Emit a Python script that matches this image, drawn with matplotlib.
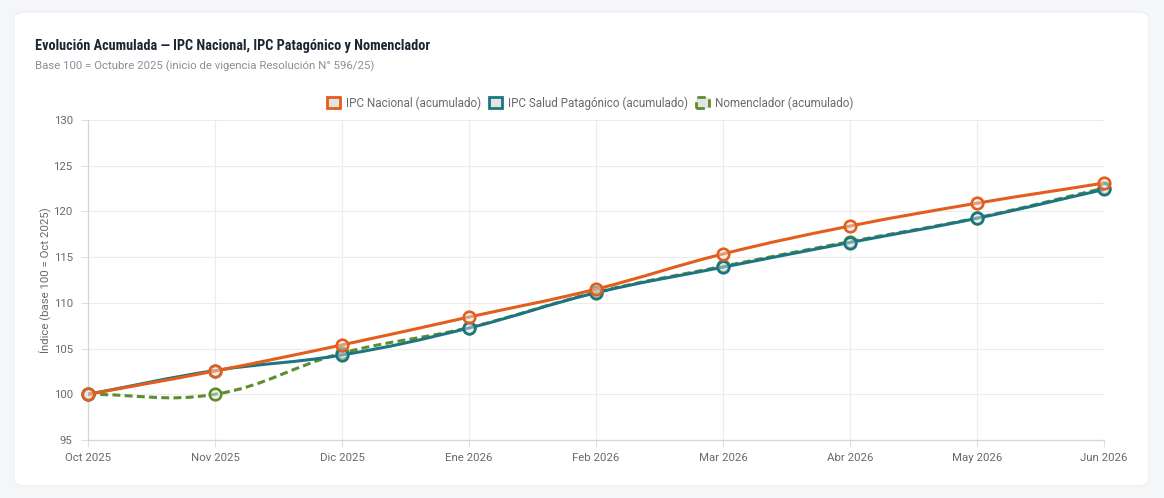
import matplotlib
matplotlib.use("Agg")
import matplotlib.pyplot as plt
from matplotlib.patches import FancyBboxPatch, Patch
from matplotlib.path import Path
from matplotlib.patches import PathPatch
import numpy as np

months = ["Oct 2025", "Nov 2025", "Dic 2025", "Ene 2026", "Feb 2026",
          "Mar 2026", "Abr 2026", "May 2026", "Jun 2026"]
ipc_nacional = [100.0, 102.55, 105.4, 108.45, 111.5, 115.35, 118.4, 120.9, 123.1]
ipc_patagonico = [100.0, 102.6, 104.3, 107.25, 111.1, 113.9, 116.6, 119.25, 122.4]
nomenclador = [100.0, 100.0, 104.5, 107.3, 111.15, 114.0, 116.7, 119.3, 122.55]
y_ticks = [95, 100, 105, 110, 115, 120, 125, 130]

C_OR = "#e35d1d"
C_TE = "#1d7582"
C_GR = "#5b8e2d"
FONT = ["Roboto", "DejaVu Sans"]
TITLE_FONT = ["Noto Sans Condensed", "Liberation Sans Narrow", "Roboto Condensed",
              "DejaVu Sans Condensed", "Noto Sans", "DejaVu Sans"]
DASH = (0, (2.6, 1.4))

fig = plt.figure(figsize=(11.64, 4.98), dpi=100)
fig.patch.set_facecolor("#f5f6f8")
card = FancyBboxPatch((14 / 1164, 12 / 498), 1135 / 1164, 474 / 498,
                      boxstyle="round,pad=0,rounding_size=0.012",
                      transform=fig.transFigure, facecolor="white",
                      edgecolor="#eceef1", linewidth=0.8, zorder=-5)
fig.patches.append(card)

ax = fig.add_axes([88 / 1164, (498 - 440) / 498, 1016 / 1164, 320 / 498])
ax.set_facecolor("none")
x = np.arange(len(months))
ax.set_xlim(0, len(months) - 1)
ax.set_ylim(95, 130)
fig.canvas.draw()


def spline_path(xs, ys, tension=0.4):
    pts = ax.transData.transform(np.column_stack([xs, ys]))
    n = len(pts)
    verts = [pts[0]]
    codes = [Path.MOVETO]
    cps = []
    for i in range(n):
        prev = pts[i - 1] if i > 0 else pts[i]
        cur = pts[i]
        nxt = pts[i + 1] if i < n - 1 else pts[i]
        d01 = np.hypot(*(cur - prev))
        d12 = np.hypot(*(nxt - cur))
        tot = d01 + d12
        s01 = d01 / tot if tot else 0
        s12 = d12 / tot if tot else 0
        fa = tension * s01
        fb = tension * s12
        cps.append((cur - fa * (nxt - prev), cur + fb * (nxt - prev)))
    for i in range(1, n):
        verts += [cps[i - 1][1], cps[i][0], pts[i]]
        codes += [Path.CURVE4] * 3
    verts = ax.transData.inverted().transform(np.array(verts))
    return Path(verts, codes)


series = [
    (ipc_nacional, C_OR, "-", 4, "IPC Nacional (acumulado)"),
    (ipc_patagonico, C_TE, "-", 3, "IPC Salud Patagónico (acumulado)"),
    (nomenclador, C_GR, DASH, 2, "Nomenclador (acumulado)"),
]
for vals, col, ls, z, lab in series:
    p = spline_path(x, vals)
    ax.add_patch(PathPatch(p, facecolor="none", edgecolor=col, lw=2.2,
                           linestyle=ls, zorder=z, capstyle="butt"))
    ax.plot(x, vals, linestyle="none", marker="o", markersize=8.3,
            markerfacecolor=(0.9, 0.9, 0.9, 0.45), markeredgecolor=col,
            markeredgewidth=1.9, zorder=z + 0.5, clip_on=False)

ax.set_xticks(x)
ax.set_xticklabels(months)
ax.set_yticks(y_ticks)
ax.grid(True, color="#ececec", linewidth=0.8)
ax.set_axisbelow(True)
for s in ["top", "right"]:
    ax.spines[s].set_visible(False)
for s in ["left", "bottom"]:
    ax.spines[s].set_color("#d6d6d6")
    ax.spines[s].set_linewidth(0.9)
ax.tick_params(axis="both", colors="#e0e0e0", length=5, width=0.8,
               labelcolor="#666a70", labelsize=8.2)
ax.tick_params(axis="x", pad=4)
ax.tick_params(axis="y", pad=6)
for lbl in ax.get_xticklabels() + ax.get_yticklabels():
    lbl.set_family(FONT)
ax.set_ylabel("Índice (base 100 = Oct 2025)", family=FONT, fontsize=8.2,
              color="#666a70", labelpad=2)

handles = [
    Patch(facecolor="#e4e4e4", edgecolor=C_OR, linewidth=2, label=series[0][4]),
    Patch(facecolor="#e4e4e4", edgecolor=C_TE, linewidth=2, label=series[1][4]),
    Patch(facecolor="#e4e4e4", edgecolor=C_GR, linewidth=2, linestyle=(0, (3, 2)),
          label=series[2][4]),
]
leg = fig.legend(handles=handles, loc="center", bbox_to_anchor=(590 / 1164, 1 - 103 / 498),
                 ncol=3, frameon=False, handlelength=1.1, handleheight=1.1,
                 handletextpad=0.5, columnspacing=0.7,
                 prop={"family": FONT, "size": 8.4})
for t in leg.get_texts():
    t.set_color("#666a70")

fig.text(35 / 1164, 1 - 46 / 498, "Evolución Acumulada — IPC Nacional, IPC Patagónico y Nomenclador",
         family=TITLE_FONT, fontweight="bold", fontstretch="condensed",
         fontsize=10.3, color="#1c2533", va="center", ha="left")
fig.text(35 / 1164, 1 - 66 / 498, "Base 100 = Octubre 2025 (inicio de vigencia Resolución N° 596/25)",
         family=FONT, fontsize=8.2, color="#8a8f96", va="center", ha="left")

fig.savefig("out.png", dpi=100, facecolor=fig.get_facecolor())
